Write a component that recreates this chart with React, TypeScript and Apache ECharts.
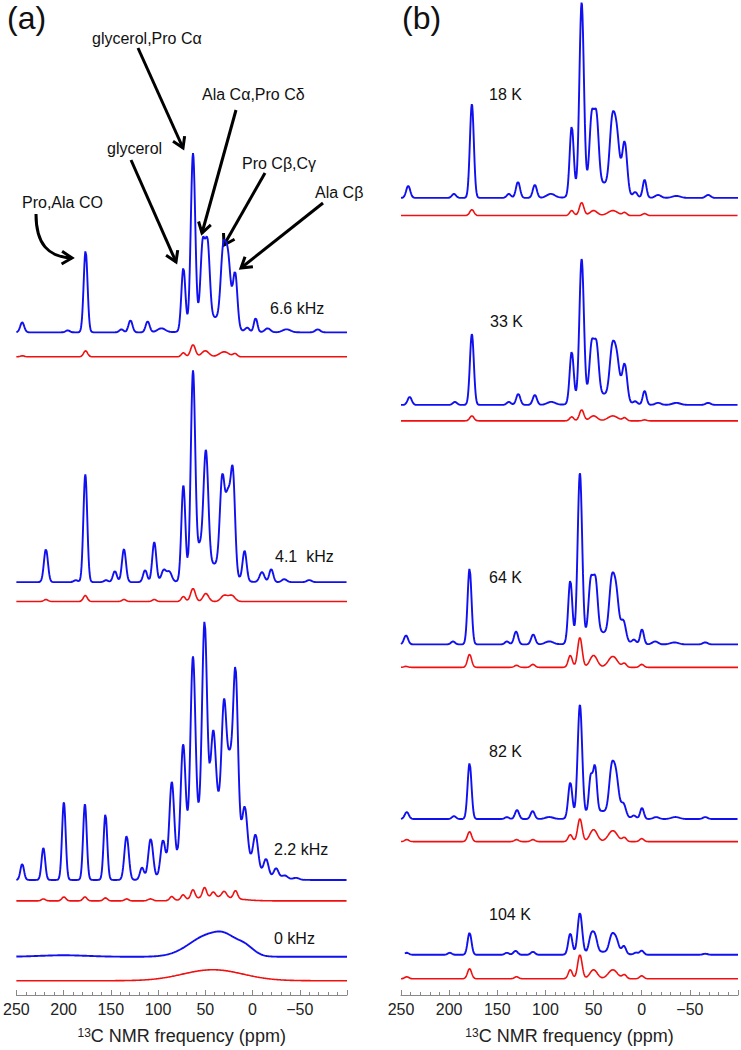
import React, { useEffect, useRef } from "react";
import * as echarts from "echarts";

type Peak = [number, number, number]; // [ppm, height, fwhm(ppm)]

// ---------- Panel (a): spinning frequencies ----------
const A_LABELS = ["6.6 kHz", "4.1  kHz", "2.2 kHz", "0 kHz"];
const A66_BLUE: Peak[] = [
  [243.8, 10, 5], [195.6, 2, 5], [176.7, 82, 4.8], [138.8, 3, 5], [129.2, 12, 5], [111, 11, 5], [96.5, 4, 10],
  [73.2, 63, 5], [63, 174, 5.5], [52.8, 76, 5.5], [47.6, 74, 5.5], [31.2, 66, 6], [26, 66, 6.5], [18.4, 55, 5.5],
  [42, 15, 35], [5.5, 4, 5], [-3.3, 14, 4.5], [-16, 4, 7], [-36, 3, 10], [-69, 3, 6],
];
const A66_RED: Peak[] = [
  [243.8, 1, 5], [176.7, 6, 5], [73.2, 4, 5], [63, 12, 6], [50, 6, 9], [30, 5, 12], [18.4, 3, 5],
];
const A41_BLUE: Peak[] = [
  [218.7, 33, 5], [187, 2, 5], [177, 108, 4.8], [155, 2, 5], [145.7, 11, 5], [136.1, 33, 5], [113.7, 12, 5],
  [104, 40, 5], [94, 12, 6], [88, 10, 6], [73.2, 95, 5], [63, 205, 5.5], [56, 22, 6], [49.4, 116, 6],
  [32, 90, 6], [26, 70, 6], [20.8, 100, 5.5], [42, 18, 35], [8.4, 30, 5], [-10, 10, 6], [-19.8, 13, 5],
  [-33.6, 3, 6], [-60, 2, 6],
];
const A41_RED: Peak[] = [
  [218.7, 2, 5], [177, 6, 5], [136, 2, 5], [104, 2, 5], [73.2, 5, 5], [63, 13, 6], [49.4, 8, 7], [30, 6, 8], [22, 6, 8],
];
const A22_BLUE: Peak[] = [
  [243.8, 16, 4.5], [221.4, 32, 4.5], [199.7, 78, 4.5], [177.4, 76, 4.5], [155.7, 66, 4.5], [133.3, 44, 5.5],
  [117, 12, 5], [107.8, 40, 6], [94.8, 35, 6], [85.5, 87, 6], [73.5, 109, 6], [63.1, 178, 6], [50.8, 192, 6],
  [41.5, 75, 6], [30.1, 110, 6], [24, 55, 6], [18, 162, 6], [8.1, 44, 6], [-3.3, 32, 6], [-14.4, 16, 6],
  [-25, 10, 6], [-34, 4, 8], [-46, 2, 8], [40, 75, 55],
];
const A22_RED: Peak[] = [
  [221.4, 2, 5], [199.7, 4, 5], [177.4, 4, 5], [155.7, 3, 5], [133.3, 2, 5], [108, 2, 6], [85.5, 4, 5],
  [73.5, 5, 5], [63.1, 9, 5], [50.8, 10, 5], [41.5, 5, 5], [30, 6, 6], [18, 8, 5], [40, 4, 50],
];
const A0_BLUE: Peak[] = [[45, 22, 50], [28, 7, 24], [8, 8, 22], [200, 1.5, 60]];
const A0_RED: Peak[] = [[42, 11, 75]];

// ---------- Panel (b): temperatures ----------
const B_LABELS = ["18 K", "33 K", "64 K", "82 K", "104 K"];
const B18_BLUE: Peak[] = [
  [242.5, 12, 5], [195, 4, 5], [176.4, 94, 4.8], [138, 4, 5], [128.5, 16, 5], [111, 13, 5], [94.4, 4, 10],
  [72.7, 70, 5], [62.4, 190, 5.5], [52, 68, 5.5], [47, 66, 5.5], [31, 54, 6], [26.2, 58, 7], [17.7, 52, 6],
  [42, 15, 35], [6.7, 5, 5], [-3, 18, 4.5], [-17, 3, 7], [-36, 2, 10], [-69, 3, 6],
];
const B18_RED: Peak[] = [
  [176.4, 6, 5], [72.7, 5, 5], [62.4, 13, 5.5], [50, 5, 9], [30, 5, 12], [17.7, 3, 5], [-3, 2, 5],
];
const B33_BLUE: Peak[] = [
  [241, 8, 5], [194, 3, 5], [176.4, 71, 4.8], [138, 3, 5], [128.2, 11, 5], [111, 10, 5], [94, 3, 10],
  [72.7, 52, 5], [62.4, 142, 5.5], [52, 51, 5.5], [47, 49, 5.5], [31, 40, 6], [26.2, 43, 7], [17.7, 38, 6],
  [42, 11, 35], [6.7, 3, 5], [-3, 14, 4.5], [-17, 2, 7], [-36, 2, 10], [-69, 2, 6],
];
const B33_RED: Peak[] = [
  [176.4, 5, 5], [72.7, 4, 5], [62.4, 11, 5.5], [50, 5, 9], [30, 5, 12], [17.7, 3, 5], [-3, 1, 5],
];
const B64_BLUE: Peak[] = [
  [244.8, 9, 5], [196, 3, 5], [178.8, 76, 4.8], [140, 3, 5], [130.5, 13, 5], [112.7, 10, 5], [96, 3, 10],
  [74.2, 63, 5], [64.2, 168, 5.5], [53, 53, 5.5], [48, 52, 5.5], [31.4, 48, 6], [26.7, 46, 6.5], [19, 20, 6],
  [42, 12, 35], [8, 4, 5], [-0.3, 15, 4.5], [-14, 3, 7], [-34, 2, 10], [-66, 2, 6],
];
const B64_RED: Peak[] = [
  [244.8, 1, 5], [178.8, 13, 5], [130, 2, 5], [113, 3, 5], [74.2, 12, 5], [64.2, 30, 5.5], [50, 12, 9],
  [30, 11, 11], [18, 4, 5], [0, 3, 5],
];
const B82_BLUE: Peak[] = [
  [244, 7, 5], [195, 3, 5], [178.8, 56, 4.8], [140, 2, 5], [129.5, 9, 5], [113.3, 8, 5], [96, 2, 10],
  [74.2, 36, 5], [64.2, 112, 5.5], [53, 36, 4.5], [48.5, 45, 4.5], [31.4, 40, 6], [26.7, 38, 6.5], [19, 13, 6],
  [42, 8, 35], [8, 3, 5], [-0.3, 11, 4.5], [-15, 2, 7], [-35, 2, 10], [-66, 2, 6],
];
const B82_RED: Peak[] = [
  [244, 2, 5], [178.8, 10, 5], [130, 2, 5], [113, 2, 5], [74.2, 7, 5], [64.2, 23, 5.5], [50, 12, 9],
  [30, 11, 11], [18, 4, 5], [0, 3, 5],
];
const B104_BLUE: Peak[] = [
  [244, 2, 5], [199.4, 2, 5], [178.8, 22, 4.8], [140, 2, 5], [131, 4, 5], [113, 3, 5], [74.2, 21, 5],
  [64.2, 41, 5.5], [52.6, 16, 5.5], [48.5, 15, 5.5], [31.4, 15, 6], [26.7, 14, 6.5], [18.5, 8, 5],
  [42, 3, 35], [6, 2, 5], [0, 4, 5], [-66, 1, 6],
];
const B104_RED: Peak[] = [
  [244, 2, 5], [178.8, 10, 5], [130, 2, 5], [74.2, 9, 5], [64.2, 24, 5.5], [50, 9, 9], [30, 9, 11],
  [18, 4, 5], [0, 3, 5],
];

// vertical stacking offsets (intensity units above the axis) and spectrum start (ppm)
const A_OFFSETS_BLUE = [664, 413.7, 115.3, 38.3];
const A_OFFSETS_RED = [639.5, 394.3, 94.3, 14.3];
const B_OFFSETS_BLUE = [798.7, 591.3, 351.3, 176.3, 40.3];
const B_OFFSETS_RED = [781, 575.3, 328.3, 153.7, 16.3];
const B_START = [250, 250, 250, 250, 246];

const A_BLUE = [A66_BLUE, A41_BLUE, A22_BLUE, A0_BLUE];
const A_RED = [A66_RED, A41_RED, A22_RED, A0_RED];
const B_BLUE = [B18_BLUE, B33_BLUE, B64_BLUE, B82_BLUE, B104_BLUE];
const B_RED = [B18_RED, B33_RED, B64_RED, B82_RED, B104_RED];

const X_TICKS = [250, 200, 150, 100, 50, 0, -50];
const BLUE = "#1010f0";
const RED = "#f01010";
const FONT = "'Liberation Sans', Arial, sans-serif";
const STEP = 0.5;

function spectrum(peaks: Peak[], offset: number, from: number): number[][] {
  const pts: number[][] = [];
  for (let i = 0; ; i++) {
    const x = from - i * STEP;
    if (x < -100) break;
    let y = 0;
    for (const [c, h, w] of peaks) {
      const d = (x - c) / w;
      y += h * Math.exp(-4 * Math.LN2 * d * d);
    }
    pts.push([x, offset + y]);
  }
  return pts;
}

function arrow(x1: number, y1: number, x2: number, y2: number) {
  const dx = x2 - x1;
  const dy = y2 - y1;
  const L = Math.hypot(dx, dy);
  const ux = dx / L, uy = dy / L;
  const len = 12, a = (32 * Math.PI) / 180;
  const bx = -ux, by = -uy;
  const p1 = [x2 + len * (bx * Math.cos(a) - by * Math.sin(a)), y2 + len * (bx * Math.sin(a) + by * Math.cos(a))];
  const p2 = [x2 + len * (bx * Math.cos(-a) - by * Math.sin(-a)), y2 + len * (bx * Math.sin(-a) + by * Math.cos(-a))];
  return {
    type: "polyline",
    shape: { points: [p1, [x2, y2], p2] },
    style: { stroke: "#000", lineWidth: 3, fill: null, lineJoin: "miter" },
  };
}

function xAxis(grid: number) {
  return {
    type: "value",
    gridIndex: grid,
    min: -100,
    max: 250,
    interval: 50,
    inverse: true,
    axisLine: { show: true, lineStyle: { color: "#888", width: 1 } },
    axisTick: { show: true, inside: true, length: 5, lineStyle: { color: "#888" } },
    minorTick: { show: true, splitNumber: 5, length: 3, lineStyle: { color: "#888" } },
    splitLine: { show: false },
    axisLabel: {
      fontSize: 16,
      color: "#222",
      fontFamily: FONT,
      margin: 6,
      formatter: (v: number) => (X_TICKS.includes(v) ? (v < 0 ? "\u2212" + Math.abs(v) : String(v)) : ""),
    },
    name: "{s|13}{t|C NMR frequency (ppm)}",
    nameLocation: "middle",
    nameGap: 32,
    nameTextStyle: {
      color: "#222",
      fontFamily: FONT,
      rich: {
        s: { fontSize: 12, verticalAlign: "top", fontFamily: FONT, color: "#222" },
        t: { fontSize: 18, fontFamily: FONT, color: "#222" },
      },
    },
  };
}

function text(str: string, x: number, y: number, size = 16) {
  return {
    type: "text",
    x,
    y,
    style: { text: str, fontSize: size, fontFamily: FONT, fill: "#111", verticalAlign: "middle", align: "left" },
  };
}

export default function App() {
  const ref = useRef<HTMLDivElement>(null);
  useEffect(() => {
    const chart = echarts.init(ref.current!, null, { renderer: "svg" });
    const series: any[] = [];
    const line = (grid: number, data: number[][], color: string, w: number) => ({
      type: "line",
      xAxisIndex: grid,
      yAxisIndex: grid,
      data,
      showSymbol: false,
      silent: true,
      lineStyle: { color, width: w },
      itemStyle: { color },
    });
    A_BLUE.forEach((p, i) => {
      series.push(line(0, spectrum(A_RED[i], A_OFFSETS_RED[i], 250), RED, 1.6));
      series.push(line(0, spectrum(p, A_OFFSETS_BLUE[i], 250), BLUE, 1.9));
    });
    B_BLUE.forEach((p, i) => {
      series.push(line(1, spectrum(B_RED[i], B_OFFSETS_RED[i], 250), RED, 1.6));
      series.push(line(1, spectrum(p, B_OFFSETS_BLUE[i], B_START[i]), BLUE, 1.9));
    });

    const graphic: any[] = [
      text("(a)", 7, 18, 32),
      text("(b)", 402, 18, 32),
      text("glycerol,Pro C\u03b1", 92, 38),
      text("Ala C\u03b1,Pro C\u03b4", 202, 94),
      text("glycerol", 107, 148),
      text("Pro C\u03b2,C\u03b3", 242, 163),
      text("Ala C\u03b2", 315, 192),
      text("Pro,Ala CO", 22, 202),
      text(A_LABELS[0], 270, 308),
      text(A_LABELS[1], 275, 556),
      text(A_LABELS[2], 274, 849),
      text(A_LABELS[3], 274, 938),
      text(B_LABELS[0], 489, 94),
      text(B_LABELS[1], 490, 321),
      text(B_LABELS[2], 489, 577),
      text(B_LABELS[3], 489, 751),
      text(B_LABELS[4], 489, 914),
    ];
    const arrows: [number, number, number, number][] = [
      [138, 48, 183, 148],
      [236, 110, 202, 233],
      [131, 160, 176, 262],
      [265, 173, 224, 245],
      [323, 203, 241, 268],
    ];
    arrows.forEach(([x1, y1, x2, y2]) => {
      graphic.push({ type: "line", shape: { x1, y1, x2, y2 }, style: { stroke: "#000", lineWidth: 3 } });
      graphic.push(arrow(x1, y1, x2, y2));
    });
    graphic.push({
      type: "bezierCurve",
      shape: { x1: 36, y1: 214, cpx1: 36, cpy1: 244, cpx2: 48, cpy2: 257, x2: 72, y2: 258 },
      style: { stroke: "#000", lineWidth: 3, fill: null },
    });
    graphic.push(arrow(48, 257, 72, 258));

    chart.setOption({
      animation: false,
      backgroundColor: "#fff",
      grid: [
        { left: 8, width: 339, top: 0, height: 997 },
        { left: 401, width: 339, top: 0, height: 997 },
      ],
      xAxis: [xAxis(0), xAxis(1)],
      yAxis: [
        { type: "value", gridIndex: 0, min: 0, max: 997, show: false },
        { type: "value", gridIndex: 1, min: 0, max: 997, show: false },
      ],
      series,
      graphic,
    });
    return () => chart.dispose();
  }, []);
  return (
    <div
      ref={ref}
      style={{ position: "fixed", left: 0, top: 0, width: 741, height: 1050, background: "#fff" }}
    />
  );
}
